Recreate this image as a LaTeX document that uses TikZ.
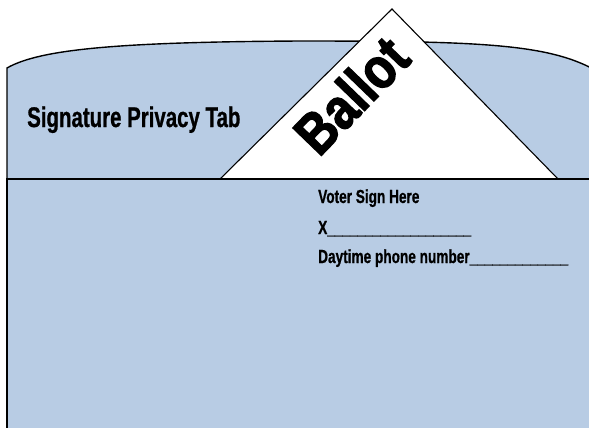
\documentclass[tikz,border=0pt]{standalone}
\usepackage{fontspec}
\newfontfamily\tabfont[FakeStretch=0.72, FakeBold=0.8]{Liberation Sans}
\newfontfamily\ballotfont[FakeStretch=0.84, FakeBold=2.2]{Liberation Sans}
\definecolor{pocketblue}{HTML}{B8CCE4}
\tikzset{
  edge/.style={line width=1.4pt, draw=black},
  txt/.style={anchor=base west, inner sep=0pt, font=\tabfont\bfseries},
}
\begin{document}
\begin{tikzpicture}[x=1bp, y=-1bp]
\useasboundingbox (0,0) rectangle (589,427);
% back flap with its rounded top
\fill[pocketblue] (7,430) -- (7,68) .. controls (40,49) and (120,42) .. (300,41)
  .. controls (480,41) and (548,44) .. (595,70) -- (595,430) -- cycle;
\draw[edge] (7,430) -- (7,68) .. controls (40,49) and (120,42) .. (300,41)
  .. controls (480,41) and (548,44) .. (595,70);
\node[txt, font=\tabfont\bfseries\fontsize{28.5}{30}\selectfont] (tab) at (27,127) {Signature Privacy Tab};
% ballot sticking out of the pocket
\draw[line width=1.1pt, fill=white] (220,179) -- (392,9) -- (558,179);
\node[txt, rotate=46, font=\ballotfont\bfseries\fontsize{58}{60}\selectfont] (ballot) at (319,158) {Ballot};
% front of the pocket
\fill[pocketblue] (7,179) rectangle (595,430);
\draw[edge] (595,179) -- (7,179) -- (7,430);
\node[txt, font=\tabfont\bfseries\fontsize{19}{21}\selectfont] (sign) at (318,203) {Voter Sign Here};
\node[txt, font=\tabfont\bfseries\fontsize{19}{21}\selectfont] (xline) at (318,234) {X\_\_\_\_\_\_\_\_\_\_\_\_\_\_\_\_\_\_\_};
\node[txt, font=\tabfont\bfseries\fontsize{19}{21}\selectfont] (phone) at (318,263) {Daytime phone number\_\_\_\_\_\_\_\_\_\_\_\_\_};
\end{tikzpicture}
\end{document}
